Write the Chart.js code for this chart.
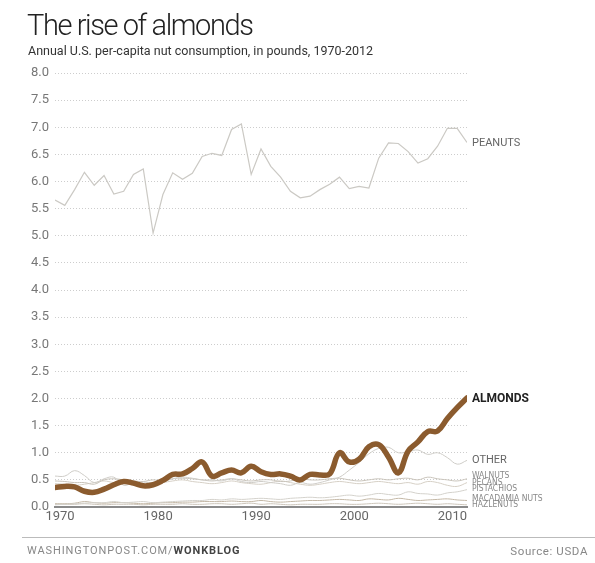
<!DOCTYPE html>
<html>
<head>
<meta charset="utf-8">
<script src="https://cdn.jsdelivr.net/npm/chart.js@4/dist/chart.umd.min.js"></script>
<style>
  html, body { margin: 0; padding: 0; background: #fff; }
  #wrap { position: relative; width: 595px; height: 563px; overflow: hidden; }
  #c { position: absolute; left: 0; top: 0; }
  .title { position: absolute; left: 27px; top: 8px; font-family: Roboto, 'Open Sans', sans-serif; font-weight: 300; font-size: 29px; color: #222; letter-spacing: -1.4px; }
  .sub { position: absolute; left: 28px; top: 43px; font-family: Roboto, 'Liberation Sans', sans-serif; font-size: 12.5px; color: #333; }
  .rule { position: absolute; left: 22px; right: 0; top: 537px; border-top: 1px solid #bbb; }
  .credit { position: absolute; left: 27px; top: 544px; font-family: Roboto, 'Liberation Sans', sans-serif; font-size: 11px; letter-spacing: 0.9px; color: #888; }
  .credit b { color: #444; }
  .source { position: absolute; right: 7px; top: 544px; font-family: Roboto, 'Liberation Sans', sans-serif; font-size: 11.5px; letter-spacing: 0.6px; color: #888; }
</style>
</head>
<body>
<div id="wrap">
  <canvas id="c" width="595" height="563"></canvas>
  <div class="title">The rise of almonds</div>
  <div class="sub">Annual U.S. per-capita nut consumption, in pounds, 1970-2012</div>
  <div class="rule"></div>
  <div class="credit">WASHINGTONPOST.COM/<b>WONKBLOG</b></div>
  <div class="source">Source: USDA</div>
</div>
<script>
// years 1970..2012
const years = [];
for (let y = 1970; y <= 2012; y++) years.push(y);

const peanuts = [5.66, 5.56, 5.85, 6.17, 5.93, 6.11, 5.77, 5.82, 6.13, 6.23,
  5.05, 5.76, 6.16, 6.04, 6.15, 6.46, 6.52, 6.48, 6.96, 7.06,
  6.13, 6.60, 6.28, 6.08, 5.82, 5.70, 5.73, 5.85, 5.95, 6.08,
  5.87, 5.91, 5.88, 6.43, 6.71, 6.70, 6.55, 6.34, 6.42, 6.65,
  6.98, 6.98, 6.72];

const almonds = [0.36, 0.38, 0.37, 0.29, 0.27, 0.33, 0.41, 0.47, 0.44, 0.39,
  0.41, 0.49, 0.60, 0.61, 0.71, 0.83, 0.57, 0.63, 0.68, 0.63,
  0.75, 0.65, 0.60, 0.61, 0.57, 0.50, 0.60, 0.59, 0.61, 1.00,
  0.83, 0.88, 1.11, 1.15, 0.92, 0.63, 1.03, 1.20, 1.39, 1.40,
  1.63, 1.83, 2.01];

const other = [0.57, 0.57, 0.67, 0.58, 0.45, 0.52, 0.55, 0.40, 0.45, 0.46,
  0.44, 0.47, 0.52, 0.55, 0.53, 0.50, 0.50, 0.48, 0.52, 0.47,
  0.45, 0.47, 0.45, 0.43, 0.40, 0.45, 0.42, 0.45, 0.50, 0.55,
  0.68, 0.82, 0.98, 1.08, 1.10, 1.00, 1.02, 1.05, 0.97, 1.00,
  0.91, 0.79, 0.86];

const walnuts = [0.48, 0.47, 0.45, 0.45, 0.42, 0.50, 0.52, 0.50, 0.48, 0.47,
  0.50, 0.48, 0.52, 0.53, 0.52, 0.50, 0.48, 0.50, 0.52, 0.50,
  0.48, 0.50, 0.50, 0.47, 0.48, 0.52, 0.50, 0.50, 0.52, 0.53,
  0.50, 0.48, 0.50, 0.52, 0.50, 0.52, 0.53, 0.50, 0.55, 0.52,
  0.50, 0.48, 0.52];

const pecans = [0.43, 0.42, 0.40, 0.42, 0.45, 0.48, 0.45, 0.45, 0.42, 0.40,
  0.42, 0.45, 0.48, 0.50, 0.47, 0.45, 0.43, 0.45, 0.48, 0.45,
  0.43, 0.42, 0.45, 0.48, 0.45, 0.42, 0.40, 0.42, 0.45, 0.47,
  0.45, 0.43, 0.45, 0.47, 0.45, 0.43, 0.45, 0.42, 0.47, 0.45,
  0.40, 0.38, 0.45];

const pistachios = [0.04, 0.05, 0.06, 0.07, 0.08, 0.08, 0.10, 0.08, 0.09, 0.10,
  0.08, 0.09, 0.10, 0.11, 0.12, 0.12, 0.14, 0.13, 0.15, 0.14,
  0.15, 0.16, 0.15, 0.14, 0.16, 0.17, 0.18, 0.17, 0.18, 0.20,
  0.22, 0.20, 0.22, 0.25, 0.23, 0.22, 0.28, 0.25, 0.24, 0.22,
  0.26, 0.28, 0.32];

const macadamia = [0.06, 0.06, 0.07, 0.10, 0.08, 0.07, 0.08, 0.08, 0.07, 0.06,
  0.07, 0.08, 0.08, 0.09, 0.09, 0.10, 0.10, 0.10, 0.11, 0.10,
  0.10, 0.12, 0.10, 0.09, 0.10, 0.11, 0.12, 0.12, 0.13, 0.14,
  0.13, 0.12, 0.15, 0.14, 0.13, 0.16, 0.14, 0.12, 0.13, 0.14,
  0.15, 0.13, 0.12];

const hazelnuts = [0.05, 0.05, 0.05, 0.06, 0.05, 0.04, 0.05, 0.05, 0.05, 0.04,
  0.05, 0.05, 0.05, 0.06, 0.05, 0.05, 0.06, 0.06, 0.05, 0.06,
  0.07, 0.05, 0.06, 0.05, 0.04, 0.05, 0.05, 0.05, 0.06, 0.06,
  0.05, 0.05, 0.06, 0.07, 0.06, 0.05, 0.06, 0.07, 0.06, 0.05,
  0.06, 0.05, 0.04];

// end labels (name, value where the label sits)
const labelNames = ['PEANUTS', 'ALMONDS', 'OTHER', 'WALNUTS', 'PECANS', 'PISTACHIOS', 'MACADAMIA NUTS', 'HAZLENUTS'];
const labelAt = [6.70, 1.99, 0.87, 0.58, 0.44, 0.33, 0.16, 0.04];

const pts = vals => years.map((y, i) => ({ x: y, y: vals[i] }));

const thin = (label, vals, color) => ({
  label, data: pts(vals), borderColor: color, borderWidth: 1,
  pointRadius: 0, tension: 0.4, order: 5
});

const endLabels = {
  id: 'endLabels',
  afterDatasetsDraw(chart) {
    const { ctx, chartArea, scales } = chart;
    ctx.save();
    ctx.textBaseline = 'middle';
    ctx.textAlign = 'left';
    labelNames.forEach((name, i) => {
      const y = scales.y.getPixelForValue(labelAt[i]);
      if (i === 0) { ctx.font = '11px Roboto'; ctx.fillStyle = '#666'; }
      else if (i === 1) { ctx.font = 'bold 12px Roboto'; ctx.fillStyle = '#222'; }
      else if (i === 2) { ctx.font = '11px Roboto'; ctx.fillStyle = '#666'; }
      else { ctx.font = '8.5px "Liberation Sans Narrow", "DejaVu Sans Condensed", sans-serif'; ctx.fillStyle = '#888'; }
      ctx.fillText(name, chartArea.right + 5, y);
    });
    ctx.restore();
  }
};

new Chart(document.getElementById('c'), {
  type: 'line',
  data: {
    datasets: [
      { label: 'Almonds', data: pts(almonds), borderColor: '#8b5b2e', borderWidth: 5.5,
        pointRadius: 0, tension: 0.4, order: 1, borderCapStyle: 'round', borderJoinStyle: 'round' },
      { label: 'Peanuts', data: pts(peanuts), borderColor: '#cbc9c4', borderWidth: 1.2,
        pointRadius: 0, tension: 0, order: 4 },
      thin('Other', other, '#cfcdc8'),
      thin('Walnuts', walnuts, '#c9c4bb'),
      thin('Pecans', pecans, '#d6d0c6'),
      thin('Pistachios', pistachios, '#d4d2cc'),
      thin('Macadamia nuts', macadamia, '#c4b8a6'),
      thin('Hazelnuts', hazelnuts, '#cdc6bb')
    ]
  },
  options: {
    responsive: false,
    animation: false,
    layout: { padding: { left: 23, right: 128, top: 73, bottom: 34 } },
    plugins: { legend: { display: false }, tooltip: { enabled: false } },
    scales: {
      x: {
        type: 'linear', min: 1970, max: 2012,
        afterFit: s => { s.height = 22; },
        afterBuildTicks: s => { s.ticks = [1970, 1980, 1990, 2000, 2010].map(v => ({ value: v })); },
        grid: { display: false, drawTicks: false },
        border: { display: true, color: '#8a8a8a', width: 2 },
        ticks: { color: '#666', padding: 2, labelOffset: 5, font: { family: 'Roboto', size: 13 }, callback: v => String(v), maxRotation: 0 }
      },
      y: {
        min: 0, max: 8,
        afterFit: s => { s.width = 32; },
        grid: { color: '#cdcdcd', lineWidth: 1, drawTicks: false, borderDash: [1, 2] },
        border: { display: false, dash: [1, 2] },
        ticks: { stepSize: 0.5, color: '#777', padding: 6, font: { family: 'Roboto', size: 13 }, callback: v => v.toFixed(1) }
      }
    }
  },
  plugins: [endLabels]
});
</script>
</body>
</html>
